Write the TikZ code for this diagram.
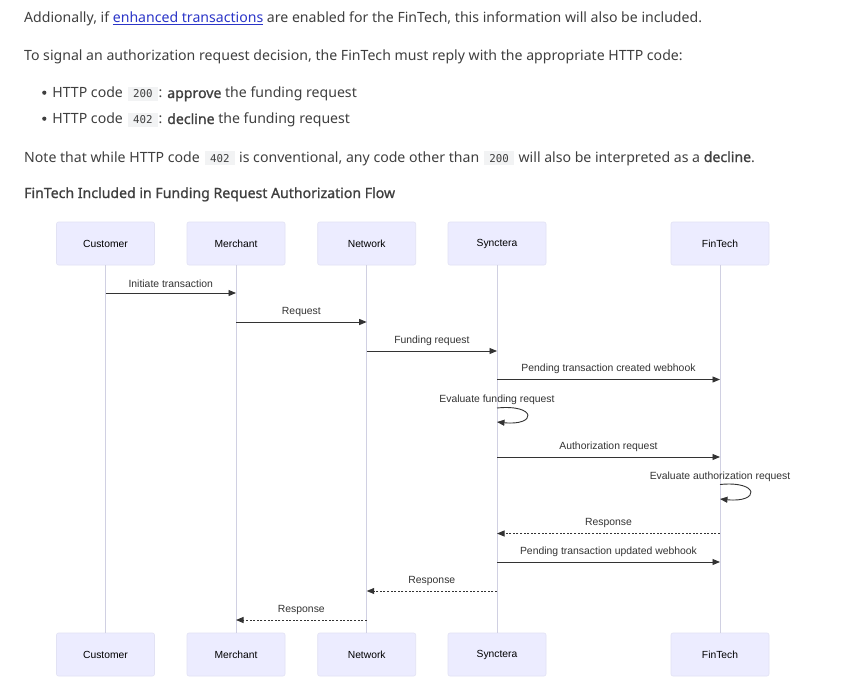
\documentclass[tikz,border=0pt]{standalone}
\usepackage{fontspec}
\setmainfont{Noto Sans}[AutoFakeBold=1.0]
\newfontfamily\diafont{Liberation Sans}
\setmonofont{DejaVu Sans Mono}
\usetikzlibrary{arrows.meta,calc}
\definecolor{txt}{HTML}{3F3F3F}
\definecolor{linkc}{HTML}{2B35C8}
\definecolor{codebg}{HTML}{F2F3F4}
\definecolor{actfill}{HTML}{ECECFF}
\definecolor{actline}{HTML}{E2E2F4}
\definecolor{lifec}{HTML}{D0D0E2}
\definecolor{msgc}{HTML}{333333}
\newcommand{\codebox}[1]{\hspace{1.5pt}{\setlength{\fboxsep}{3pt}\colorbox{codebg}{\hspace{2pt}\ttfamily\fontsize{10.8}{12}\selectfont #1\hspace{2pt}}}\hspace{1pt}}
\newcommand{\lnk}[1]{\textcolor{linkc}{\underline{#1}}}
\newcommand{\bul}{\raisebox{3.2pt}{\tikz\fill[txt] (0,0) circle (2.1pt);}}
\begin{document}
\begin{tikzpicture}[x=1pt,y=-1pt,
  para/.style={anchor=base west,inner sep=0pt,text=txt,font=\fontsize{14.1}{18}\selectfont},
  actor/.style={fill=actfill,draw=actline,line width=0.6pt,rounded corners=2pt,minimum width=98pt,minimum height=43pt,inner sep=0pt,font=\diafont\fontsize{10.3}{12}\selectfont,text=black},
  life/.style={draw=lifec,line width=0.9pt},
  msg/.style={draw=msgc,line width=0.9pt,-{Triangle[length=7.5pt,width=6pt]}},
  reply/.style={msg,dash pattern=on 2pt off 1.6pt},
  mlabel/.style={font=\diafont\fontsize{10.4}{12}\selectfont,text=msgc,inner sep=0pt,anchor=base}]
\useasboundingbox (0,0) rectangle (841,685);
\fill[white] (0,0) rectangle (841,685);

% text
\node[para] (t1) at (24,23) {Addionally, if \lnk{enhanced transactions} are enabled for the FinTech, this information will also be included.};
\node[para] (t2) at (24,61) {To signal an authorization request decision, the FinTech must reply with the appropriate HTTP code:};
\node[para] (b1) at (42,98) {\bul\hspace{6pt}HTTP code \codebox{200}: \textbf{approve} the funding request};
\node[para] (b2) at (42,124) {\bul\hspace{6pt}HTTP code \codebox{402}: \textbf{decline} the funding request};
\node[para] (t3) at (24,162) {Note that while HTTP code \codebox{402} is conventional, any code other than \codebox{200} will also be interpreted as a \textbf{decline}.};
\node[para,font=\bfseries\fontsize{14.1}{18}\selectfont] (h1) at (24,198) {FinTech Included in Funding Request Authorization Flow};

% actors
\foreach \n/\lab/\x in {c/Customer/105.5, m/Merchant/236, n/Network/366.7, s/Synctera/497, f/FinTech/720}{
  \node[actor] (\n T) at (\x,243.5) {\lab};
  \node[actor] (\n B) at (\x,654.5) {\lab};
}
\foreach \n in {c,m,n,s,f}{ \draw[life] (\n T.south) -- (\n B.north); }

% message anchor coordinates
\foreach \n in {c,m,n,s,f}{
  \foreach \i/\y in {1/293,2/322,3/351,4/379.5,5/408,6/422,7/457,8/484.5,9/499,10/533.5,11/562,12/591,13/620}{
    \coordinate (\n\i) at (\n T.south |- 0,\y);
  }
}

\draw[msg] (c1) -- node[mlabel,above=5pt] {Initiate transaction} (m1);
\draw[msg] (m2) -- node[mlabel,above=5pt] {Request} (n2);
\draw[msg] (n3) -- node[mlabel,above=5pt] {Funding request} (s3);
\draw[msg] (s4) -- node[mlabel,above=5pt] {Pending transaction created webhook} (f4);
\node[mlabel] (l5) at (497,402.5) {Evaluate funding request};
\draw[msg] (s5) .. controls ($(s5)+(40,-4)$) and ($(s6)+(40,4)$) .. (s6);
\draw[msg] (s7) -- node[mlabel,above=5pt] {Authorization request} (f7);
\node[mlabel] (l8) at (720,479.5) {Evaluate authorization request};
\draw[msg] (f8) .. controls ($(f8)+(40,-4)$) and ($(f9)+(40,4)$) .. (f9);
\draw[reply] (f10) -- node[mlabel,above=5pt] {Response} (s10);
\draw[msg] (s11) -- node[mlabel,above=5pt] {Pending transaction updated webhook} (f11);
\draw[reply] (s12) -- node[mlabel,above=5pt] {Response} (n12);
\draw[reply] (n13) -- node[mlabel,above=5pt] {Response} (m13);
\end{tikzpicture}
\end{document}
